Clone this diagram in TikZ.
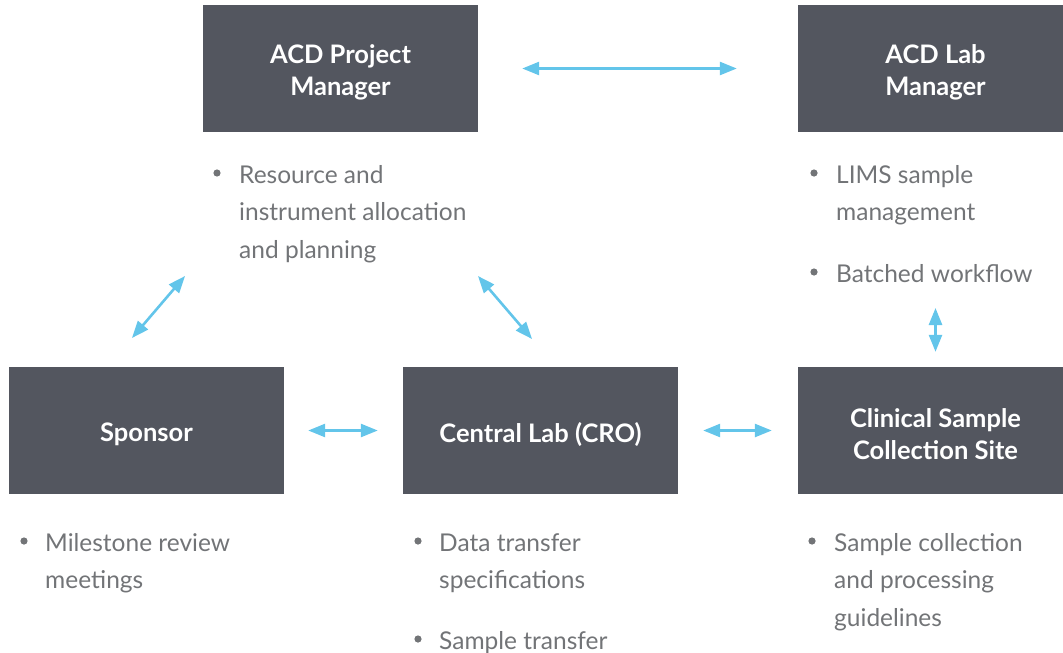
\documentclass[tikz,border=0pt]{standalone}
\usepackage{fontspec}
\setmainfont{Lato}
\usetikzlibrary{arrows.meta,positioning}
\definecolor{boxgray}{HTML}{53565F}
\definecolor{notegray}{HTML}{727477}
\definecolor{linkblue}{HTML}{63C5EA}

\begin{document}
\begin{tikzpicture}[x=1pt,y=-1pt,
    role/.style={fill=boxgray,minimum width=275pt,minimum height=127pt,inner sep=0pt},
    role text/.style={inner sep=0pt,yshift=-4pt,text=white,align=center,font=\fontsize{25.5}{32}\selectfont\bfseries},
    note/.style={anchor=base west,inner sep=0pt,text=notegray,font=\fontsize{24.5}{28}\selectfont},
    link/.style={linkblue,line width=2.6pt,{Triangle[length=17pt,width=13pt]}-{Triangle[length=17pt,width=13pt]}}]
    \clip (0,0) rectangle (1063,653);

    % boxes
    \node[role] (pm) at (340.5,68.5) {};
    \node[role] (lab) at (935.5,68.5) {};
    \node[role] (sponsor) at (146.5,430.5) {};
    \node[role] (cro) at (540.5,430.5) {};
    \node[role] (site) at (935.5,430.5) {};
    \node[role text] (pm-text) at (pm) {ACD Project\\Manager};
    \node[role text] (lab-text) at (lab) {ACD Lab\\Manager};
    \node[role text] (sponsor-text) at (sponsor) {Sponsor};
    \node[role text] (cro-text) at (cro) {Central Lab (CRO)};
    \node[role text] (site-text) at (site) {Clinical Sample\\Collection Site};

    % bullet notes
    \foreach \x/\y/\t [count=\i] in {239/183/Resource and, 239/220.5/instrument allocation, 239/258/and planning,
        836/183/LIMS sample, 836/220.5/management, 836/282/Batched workflow,
        45/551/Milestone review, 45/588.5/meetings,
        439/551/Data transfer, 439/588.5/specifications, 439/649/Sample transfer,
        834/551/Sample collection, 834/588.5/and processing, 834/626/guidelines} {
        \node[note] (note\i) at (\x,\y) {\t};
    }
    \foreach \x/\y in {217/173, 814/173, 814/272, 24/541, 418/541, 418/639, 812/541} {
        \fill[notegray] (\x,\y) circle (3.6);
    }

    % links
    \coordinate (sp-end) at (132,338);
    \coordinate (pm-left) at (185,276);
    \coordinate (pm-right) at (478,276);
    \coordinate (cro-end) at (532,339);
    \coordinate (lab-end) at (935.5,308);
    \draw[link,shorten <=44pt,shorten >=61pt] (pm.east) -- (lab.west);
    \draw[link] (sp-end) -- (pm-left);
    \draw[link] (pm-right) -- (cro-end);
    \draw[link,shorten >=15pt] (lab-end) -- (site.north);
    \draw[link,shorten <=24pt,shorten >=25pt] (sponsor.east) -- (cro.west);
    \draw[link,shorten <=25pt,shorten >=26pt] (cro.east) -- (site.west);
\end{tikzpicture}
\end{document}
